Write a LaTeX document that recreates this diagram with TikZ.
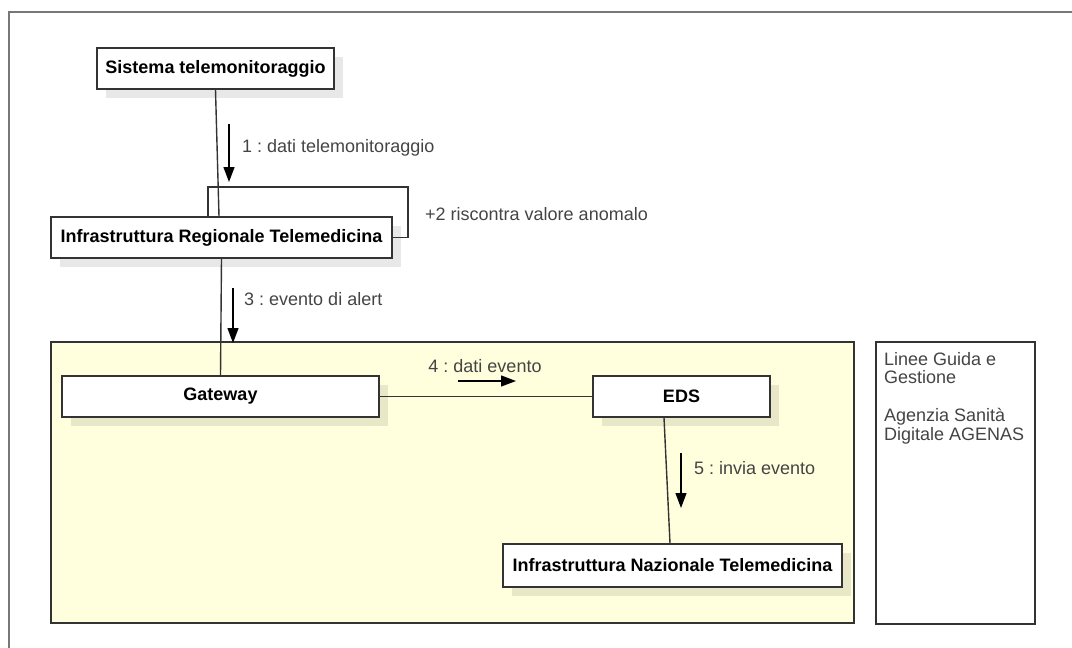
\documentclass[tikz,border=0pt]{standalone}
\usepackage{fontspec}
\setmainfont{Liberation Sans}
\usetikzlibrary{arrows.meta,shadows}
\definecolor{edge}{HTML}{333333}
\definecolor{framegray}{HTML}{777777}
\definecolor{pkgfill}{HTML}{FFFFDD}
\definecolor{msgtext}{HTML}{444444}
\frenchspacing

\begin{document}
\begin{tikzpicture}[x=1pt,y=-1pt,
  obj/.style={draw=edge, line width=1.5pt, fill=white, inner sep=0pt,
    font=\fontsize{18}{21}\selectfont\bfseries, text=black,
    drop shadow={shadow xshift=9pt, shadow yshift=-9pt, fill=black, opacity=0.09}},
  link/.style={draw=edge, line width=1.4pt},
  msgarrow/.style={draw=black, line width=1.3pt, -{Triangle[length=15pt,width=11pt]}},
  msglabel/.style={anchor=base west, inner sep=0pt, text=msgtext,
    font=\fontsize{18}{21}\selectfont}]

\useasboundingbox (0,0) rectangle (1072,648);

% outer frame (open to the right and bottom)
\draw[framegray, line width=2pt] (9,648) -- (9,12) -- (1072,12);

% package area
\node[draw=edge, line width=1.5pt, fill=pkgfill, inner sep=0pt,
      minimum width=803pt, minimum height=281pt] (pkg) at (452.5,482.5) {};

% note box on the right
\node[draw=edge, line width=1.5pt, fill=white, inner sep=0pt,
      minimum width=159pt, minimum height=282pt] (note) at (955.5,483) {};
\node[anchor=north west, inner sep=0pt, align=left, text=msgtext,
      font=\fontsize{18}{18.5}\selectfont] (notetext) at (884,352)
  {Linee Guida e\\Gestione\\[19.5pt]Agenzia Sanità\\Digitale AGENAS};

% objects
\node[obj, minimum width=237pt, minimum height=41pt] (sis) at (215.5,68.5) {Sistema telemonitoraggio};
\node[obj, minimum width=341pt, minimum height=41pt] (reg) at (221.5,237.5) {Infrastruttura Regionale Telemedicina};
\node[obj, minimum width=317pt, minimum height=41pt] (gw) at (220.5,396.5) {Gateway};
\node[obj, minimum width=177pt, minimum height=41pt] (eds) at (681.5,396.5) {EDS};
\node[obj, minimum width=339pt, minimum height=43pt] (naz) at (672.5,565.5) {Infrastruttura Nazionale Telemedicina};

% links
\coordinate (loop) at (408,187);
\draw[link] (sis.south) -- ([xshift=-2.5pt]reg.north);
\draw[link] ([xshift=-13.5pt]reg.north) |- (loop) |- (reg.east);
\draw[link] (reg.south) -- (gw.north);
\draw[link] (gw.east) -- (eds.west);
\draw[link] ([xshift=-17.5pt]eds.south) -- ([xshift=-2.5pt]naz.north);

% messages
\coordinate (m1a) at (229,124); \coordinate (m1b) at (229,182);
\coordinate (m3a) at (233,288); \coordinate (m3b) at (233,343);
\coordinate (m4a) at (458,381); \coordinate (m4b) at (516,381);
\coordinate (m5a) at (681,453); \coordinate (m5b) at (681,508);
\draw[msgarrow] (m1a) -- (m1b);
\draw[msgarrow] (m3a) -- (m3b);
\draw[msgarrow] (m4a) -- (m4b);
\draw[msgarrow] (m5a) -- (m5b);

\node[msglabel] (l1) at (242,152) {1 : dati telemonitoraggio};
\node[msglabel] (l2) at (425,220) {+2 riscontra valore anomalo};
\node[msglabel] (l3) at (244,305) {3 : evento di alert};
\node[msglabel, anchor=base] (l4) at (485,372) {4 : dati evento};
\node[msglabel] (l5) at (694,474) {5 : invia evento};
\end{tikzpicture}
\end{document}
